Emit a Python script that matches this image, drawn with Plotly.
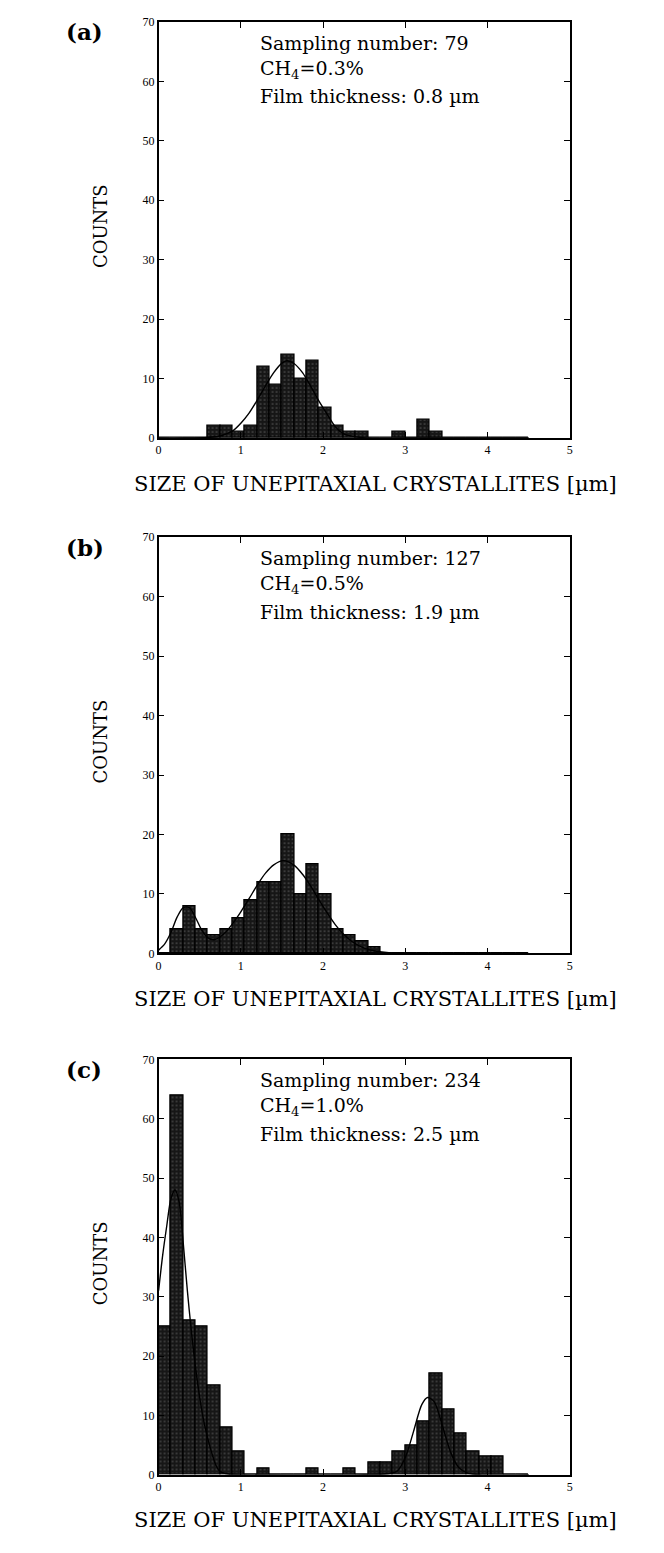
import plotly.graph_objects as go

# ---------------- data ----------------
bin_centers = [0.075, 0.225, 0.375, 0.525, 0.675, 0.825, 0.975, 1.125, 1.275, 1.425,
               1.575, 1.725, 1.875, 2.025, 2.175, 2.325, 2.475, 2.625, 2.775, 2.925,
               3.075, 3.225, 3.375, 3.525, 3.675, 3.825, 3.975, 4.125, 4.275, 4.425]
bin_width = 0.15

counts_a = [0, 0, 0, 0, 2, 2, 1, 2, 12, 9, 14, 10, 13, 5, 2, 1, 1, 0, 0, 1,
            0, 3, 1, 0, 0, 0, 0, 0, 0, 0]
counts_b = [0, 4, 8, 4, 3, 4, 6, 9, 12, 12, 20, 10, 15, 10, 4, 3, 2, 1, 0, 0,
            0, 0, 0, 0, 0, 0, 0, 0, 0, 0]
counts_c = [25, 64, 26, 25, 15, 8, 4, 0, 1, 0, 0, 0, 1, 0, 0, 1, 0, 2, 2, 4,
            5, 9, 17, 11, 7, 4, 3, 3, 0, 0]

fit_a_x = [0.0, 0.3, 0.6, 0.75, 0.9, 1.0, 1.1, 1.2, 1.3, 1.4, 1.5, 1.56, 1.65, 1.75,
           1.85, 1.95, 2.05, 2.15, 2.25, 2.4, 2.6, 3.0, 4.5]
fit_a_y = [0, 0, 0.1, 0.35, 1.2, 2.5, 4.2, 6.4, 8.8, 11.0, 12.6, 13.0, 12.5, 11.0,
           8.7, 6.2, 4.0, 1.9, 0.7, 0.2, 0, 0, 0]

fit_b_x = [0.0, 0.075, 0.15, 0.225, 0.3, 0.375, 0.45, 0.525, 0.6, 0.675, 0.75, 0.825,
           0.9, 1.0, 1.1, 1.2, 1.3, 1.4, 1.52, 1.65, 1.75, 1.85, 1.95, 2.05, 2.15,
           2.25, 2.35, 2.5, 2.65, 2.8, 3.0, 4.5]
fit_b_y = [0.55, 1.6, 3.5, 6.1, 7.7, 7.7, 6.0, 3.9, 2.6, 2.3, 2.8, 3.7,
           5.0, 7.0, 9.2, 11.5, 13.5, 14.9, 15.6, 14.8, 13.3, 11.3, 9.0, 6.8, 4.8,
           3.2, 2.0, 0.9, 0.35, 0.1, 0, 0]

fit_c_x = [0.0, 0.05, 0.1, 0.15, 0.2, 0.25, 0.3, 0.35, 0.4, 0.45, 0.5, 0.55, 0.6,
           0.65, 0.7, 0.75, 0.85, 1.0, 2.5, 2.8, 2.9, 3.0, 3.1, 3.2, 3.27, 3.35,
           3.45, 3.55, 3.65, 3.75, 3.9, 4.5]
fit_c_y = [31, 37, 42, 46.5, 48, 46, 39, 31, 24, 18, 13, 9, 6,
           3.5, 1.5, 0.5, 0.1, 0, 0, 0.2, 0.6, 2.9, 7.3, 11.8, 13, 12.3,
           8.3, 3.8, 1.2, 0.3, 0, 0]

panel_labels = ["(a)", "(b)", "(c)"]
sampling_numbers = ["79", "127", "234"]
ch4_values = ["0.3%", "0.5%", "1.0%"]
thicknesses = ["0.8", "1.9", "2.5"]

x_title = "SIZE OF UNEPITAXIAL CRYSTALLITES [µm]"
y_title = "COUNTS"

# ---------------- layout helpers ----------------
W, H = 664, 1553
X0, X1 = 157, 572                 # pixel x of axis 0 and 5
panels_px = [(15, 435), (535, 955), (1062, 1481)]   # (top, bottom) pixel y


def px_x(p):
    return p / W


def px_y(p):
    return 1 - p / H


serif = "Liberation Serif"
text_font = "DejaVu Serif"
fig = go.Figure()

counts_all = [counts_a, counts_b, counts_c]
fits = [(fit_a_x, fit_a_y), (fit_b_x, fit_b_y), (fit_c_x, fit_c_y)]

annotations = []
layout_axes = {}
for i in range(3):
    n = "" if i == 0 else str(i + 1)
    xa, ya = "x" + n, "y" + n
    fig.add_trace(go.Bar(
        x=bin_centers, y=counts_all[i], width=bin_width,
        xaxis=xa, yaxis=ya,
        marker=dict(color="#161616",
                    line=dict(color="black", width=1.3),
                    pattern=dict(shape=".", fgcolor="#9a9a9a", bgcolor="#161616",
                                 size=4, solidity=0.15)),
        showlegend=False))
    fig.add_trace(go.Scatter(
        x=fits[i][0], y=fits[i][1], mode="lines", xaxis=xa, yaxis=ya,
        line=dict(color="black", width=1.4, shape="spline", smoothing=0.8),
        showlegend=False))

    top, bot = panels_px[i]
    axis_common = dict(showline=True, linecolor="black", linewidth=1.5, mirror="allticks",
                       ticks="inside", ticklen=6, tickwidth=1, tickcolor="black",
                       showgrid=False, zeroline=False,
                       tickfont=dict(family=serif, size=12, color="black"))
    layout_axes["xaxis" + n] = dict(axis_common, domain=[px_x(X0), px_x(X1)],
                                    range=[0, 5], dtick=1, tick0=0, anchor=ya)
    layout_axes["yaxis" + n] = dict(axis_common, domain=[px_y(bot), px_y(top)],
                                    range=[0, 70], dtick=10, tick0=0, anchor=xa)

    # panel label
    annotations.append(dict(text="<b>" + panel_labels[i] + "</b>", xref="paper", yref="paper",
                            x=px_x(62), y=px_y(top + 10), xanchor="left", yanchor="middle",
                            showarrow=False, font=dict(family=text_font, size=23, color="black")))
    # info text
    lines = ["Sampling number: " + sampling_numbers[i],
             "CH<sub>4</sub>=" + ch4_values[i],
             "Film thickness: " + thicknesses[i] + " µm"]
    for k, t in enumerate(lines):
        annotations.append(dict(text=t, xref="paper", yref="paper",
                                x=px_x(257), y=px_y(top + 21 + 27 * k),
                                xanchor="left", yanchor="middle", showarrow=False,
                                font=dict(family=text_font, size=19, color="black")))
    # y title
    annotations.append(dict(text=y_title, xref="paper", yref="paper",
                            x=px_x(98), y=px_y((top + bot) / 2 - 4), textangle=-90,
                            xanchor="center", yanchor="middle", showarrow=False,
                            font=dict(family=text_font, size=18, color="black")))
    # x title
    annotations.append(dict(text=x_title, xref="paper", yref="paper",
                            x=px_x(376), y=px_y(bot + 46),
                            xanchor="center", yanchor="middle", showarrow=False,
                            font=dict(family=text_font, size=21, color="black")))

fig.update_layout(width=W, height=H, margin=dict(l=0, r=0, t=0, b=0),
                  paper_bgcolor="white", plot_bgcolor="white",
                  bargap=0, annotations=annotations, **layout_axes)

fig.write_html("out.html")
